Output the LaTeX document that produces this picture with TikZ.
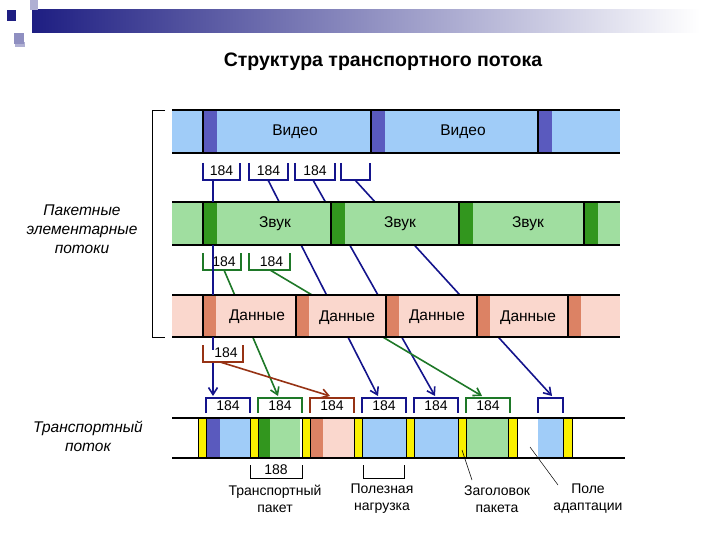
\documentclass[tikz,border=0pt]{standalone}
\usepackage{fontspec}
\setmainfont{Liberation Sans}
\usetikzlibrary{arrows.meta}
\definecolor{vb}{RGB}{160,204,248}
\definecolor{vd}{RGB}{90,90,190}
\definecolor{ab}{RGB}{160,222,160}
\definecolor{ad}{RGB}{50,150,30}
\definecolor{db}{RGB}{250,215,205}
\definecolor{dd}{RGB}{220,130,100}
\definecolor{yl}{RGB}{250,240,0}
\definecolor{nb}{RGB}{20,20,140}
\definecolor{ng}{RGB}{30,120,40}
\definecolor{nr}{RGB}{150,50,20}
\definecolor{gb}{RGB}{30,30,130}
\begin{document}
\begin{tikzpicture}[x=1pt,y=-1pt,
  lbl/.style={font=\fontsize{15.5}{17}\selectfont},
  num/.style={font=\fontsize{14}{16}\selectfont},
  brk/.style={line width=2pt},
  con/.style={line width=1.6pt},
  arr/.style={con,-{Straight Barb[length=7pt,width=9pt]}},
  sep/.style={line width=2pt},
  band/.style={line width=2.4pt}]
\useasboundingbox (0,0) rectangle (720,540);
% decor
\shade[left color=gb,right color=white] (32,10) rectangle (700,33);
\fill[gb!35!white] (30,0) rectangle (38,10);
\fill[gb!35!white] (15,42) rectangle (25,47);
\fill[gb!50!white] (14,33) rectangle (24,44);
\fill[gb] (7,10) rectangle (16,21);
\node[font=\bfseries\fontsize{19.5}{22}\selectfont] (title) at (383,62) {Структура транспортного потока};
% connectors (behind bands)
\coordinate (v1) at (213,180); \coordinate (v2) at (268,180);
\coordinate (v3) at (313,180); \coordinate (v4) at (355,180);
\coordinate (a1) at (224,270); \coordinate (a2) at (270,270);
\coordinate (d1) at (220,362);
\coordinate (t1) at (213,396); \coordinate (t2) at (278,396);
\coordinate (t3) at (330,396); \coordinate (t4) at (378,396);
\coordinate (t5) at (435,396); \coordinate (t6) at (482,396);
\coordinate (t7) at (552,396);
\draw[arr,nb] (v1) -- (t1);
\draw[arr,nb] (v2) -- (t4);
\draw[arr,nb] (v3) -- (t5);
\draw[arr,nb] (v4) -- (t7);
\draw[arr,ng] (a1) -- (t2);
\draw[arr,ng] (a2) -- (t6);
\draw[arr,nr] (d1) -- (t3);
% video band
\fill[vb] (172,110) rectangle (620,153);
\foreach \x in {203,371,538} {\fill[vd] (\x,110) rectangle (\x+14,153); \draw[sep] (\x,110)--(\x,153);}
\draw[band] (172,110)--(620,110) (172,153)--(620,153);
\node[lbl] (vl1) at (295,132) {Видео};
\node[lbl] (vl2) at (463,132) {Видео};
% audio band
\fill[ab] (172,202) rectangle (620,245);
\foreach \x in {203,331,459,584} {\fill[ad] (\x,202) rectangle (\x+14,245); \draw[sep] (\x,202)--(\x,245);}
\draw[band] (172,202)--(620,202) (172,245)--(620,245);
\node[lbl] (al1) at (275,224) {Звук};
\node[lbl] (al2) at (400,224) {Звук};
\node[lbl] (al3) at (528,224) {Звук};
% data band
\fill[db] (172,295) rectangle (620,337);
\foreach \x in {203,296,386,477,568} {\fill[dd] (\x,295) rectangle (\x+13,337); \draw[sep] (\x,295)--(\x,337);}
\draw[band] (172,295)--(620,295) (172,337)--(620,337);
\node[lbl] (dl1) at (257,317) {Данные};
\node[lbl] (dl2) at (347,318) {Данные};
\node[lbl] (dl3) at (437,317) {Данные};
\node[lbl] (dl4) at (528,318) {Данные};
% brackets
\foreach \a/\b/\t in {203/240/184,249/288/184,295/335/184,341/370/{}}
  {\fill[white] (\a,163) rectangle (\b,180); \draw[brk,nb] (\a,163)--(\a,180)--(\b,180)--(\b,163); \node[num] at ({(\a+\b)/2},171) {\t};}
\draw[con,nb] (213,180)--(213,202);
\foreach \a/\b in {203/241,249/290}
  {\fill[white] (\a,253) rectangle (\b,270); \draw[brk,ng] (\a,253)--(\a,270)--(\b,270)--(\b,253); \node[num] at ({(\a+\b)/2+2},262) {184};}
\draw[con,nb] (213,245)--(213,295);
\fill[white] (206,345) rectangle (243,362);
\draw[brk,nr] (203,345)--(203,362)--(243,362)--(243,345);
\node[num] (dbk) at (226,353) {184};
\draw[con,nb] (213,337)--(213,350);
% transport brackets
\foreach \a/\b/\c/\t in {206/250/nb/184,258/302/ng/184,310/354/nr/184,362/406/nb/184,414/458/nb/184,466/510/ng/184,538/563/nb/{}}
  {\draw[brk,\c] (\a,413)--(\a,398)--(\b,398)--(\b,413); \node[num] at ({(\a+\b)/2},406) {\t};}
% transport band
\fill[yl] (198,418) rectangle (206,458);
\fill[vd] (206,418) rectangle (220,458); \fill[vb] (220,418) rectangle (250,458);
\fill[yl] (250,418) rectangle (258,458);
\fill[ad] (258,418) rectangle (270,458); \fill[ab] (270,418) rectangle (300,458);
\fill[yl] (302,418) rectangle (310,458);
\fill[dd] (310,418) rectangle (323,458); \fill[db] (323,418) rectangle (354,458);
\fill[yl] (354,418) rectangle (362,458);
\fill[vb] (362,418) rectangle (406,458);
\fill[yl] (406,418) rectangle (414,458);
\fill[vb] (414,418) rectangle (458,458);
\fill[yl] (458,418) rectangle (466,458);
\fill[ab] (466,418) rectangle (508,458);
\fill[yl] (508,418) rectangle (517,458);
\fill[vb] (538,418) rectangle (563,458);
\fill[yl] (563,418) rectangle (572,458);
\foreach \x in {198,206,250,258,302,310,354,362,406,414,458,466,508,517,563,572} {\draw[line width=0.6pt] (\x,418)--(\x,458);}
\draw[band] (172,418)--(625,418) (172,458)--(625,458);
% bottom brackets and labels
\draw[line width=0.6pt] (250,465)--(250,478)--(302,478)--(302,465);
\node[num] (n188) at (276,470) {188};
\draw[line width=0.6pt] (363,465)--(363,478)--(404,478)--(404,465);
\node[align=center,font=\fontsize{14}{17}\selectfont] (tp) at (275,499) {Транспортный\\пакет};
\node[align=center,font=\fontsize{14}{17}\selectfont] (pn) at (382,499) {Полезная\\нагрузка};
\node[align=center,font=\fontsize{14}{17}\selectfont] (zp) at (497,499) {Заголовок\\пакета};
\node[align=center,font=\fontsize{14}{17}\selectfont] (pa) at (588,499) {Поле\\адаптации};
\coordinate (hy) at (462,450); \coordinate (af) at (530,447);
\draw[line width=0.5pt] (hy) -- (472,480);
\draw[line width=0.5pt] (af) -- (558,485);
% left labels
\draw[line width=0.6pt] (165,110)--(152,110)--(152,337)--(165,337);
\node[align=center,font=\itshape\fontsize{15.5}{19}\selectfont] (pes) at (82,229) {Пакетные\\элементарные\\потоки};
\node[align=center,font=\itshape\fontsize{15.5}{19}\selectfont] (ts) at (88,436) {Транспортный\\поток};
\end{tikzpicture}
\end{document}
